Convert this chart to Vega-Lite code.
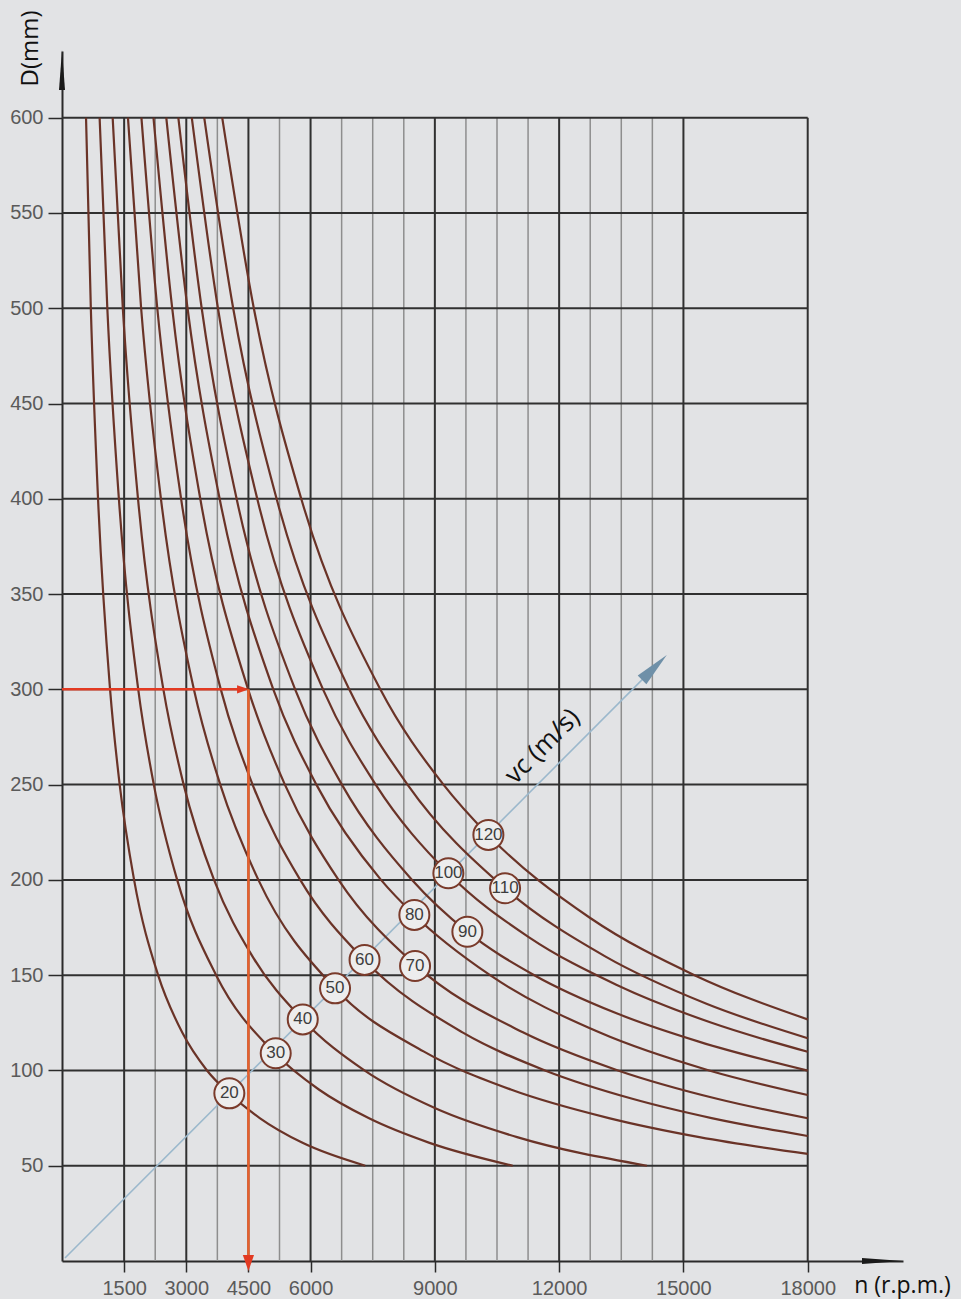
{
  "$schema": "https://vega.github.io/schema/vega-lite/v6.json",
  "width": 841,
  "height": 1210,
  "autosize": {"type": "none"},
  "padding": {"left": 62, "top": 51, "right": 58, "bottom": 38},
  "background": "#e2e3e5",
  "config": {"view": {"stroke": null}},
  "datasets": {
    "vminor": [
      {"n": 2250, "D": 0, "D2": 600}, {"n": 3750, "D": 0, "D2": 600}, {"n": 5250, "D": 0, "D2": 600},
      {"n": 6750, "D": 0, "D2": 600}, {"n": 7500, "D": 0, "D2": 600}, {"n": 8250, "D": 0, "D2": 600},
      {"n": 9750, "D": 0, "D2": 600}, {"n": 10500, "D": 0, "D2": 600}, {"n": 11250, "D": 0, "D2": 600},
      {"n": 12750, "D": 0, "D2": 600}, {"n": 13500, "D": 0, "D2": 600}, {"n": 14250, "D": 0, "D2": 600}
    ],
    "vmajor": [
      {"n": 1500, "D": 0, "D2": 600}, {"n": 3000, "D": 0, "D2": 600}, {"n": 4500, "D": 0, "D2": 600},
      {"n": 6000, "D": 0, "D2": 600}, {"n": 9000, "D": 0, "D2": 600}, {"n": 12000, "D": 0, "D2": 600},
      {"n": 15000, "D": 0, "D2": 600}, {"n": 18000, "D": 0, "D2": 600}
    ],
    "hgrid": [
      {"D": 50, "n": 0, "n2": 18000}, {"D": 100, "n": 0, "n2": 18000}, {"D": 150, "n": 0, "n2": 18000},
      {"D": 200, "n": 0, "n2": 18000}, {"D": 250, "n": 0, "n2": 18000}, {"D": 300, "n": 0, "n2": 18000},
      {"D": 350, "n": 0, "n2": 18000}, {"D": 400, "n": 0, "n2": 18000}, {"D": 450, "n": 0, "n2": 18000},
      {"D": 500, "n": 0, "n2": 18000}, {"D": 550, "n": 0, "n2": 18000}, {"D": 600, "n": 0, "n2": 18000}
    ],
    "blue": [{"n": 72, "D": 1.6}, {"n": 14300, "D": 311.5}],
    "bluehead": [{"n": 14300, "D": 311.5}],
    "curves": [
      {"vc": 20, "n": 580, "D": 600}, {"vc": 20, "n": 696, "D": 500}, {"vc": 20, "n": 870, "D": 400}, {"vc": 20, "n": 1160, "D": 300}, {"vc": 20, "n": 1392, "D": 250}, {"vc": 20, "n": 1740, "D": 200}, {"vc": 20, "n": 2320, "D": 150}, {"vc": 20, "n": 2900, "D": 120}, {"vc": 20, "n": 3500, "D": 100}, {"vc": 20, "n": 4034, "D": 88}, {"vc": 20, "n": 4773, "D": 75}, {"vc": 20, "n": 5806, "D": 62}, {"vc": 20, "n": 7320, "D": 50},
      {"vc": 30, "n": 908, "D": 600}, {"vc": 30, "n": 1094, "D": 500}, {"vc": 30, "n": 1373, "D": 400}, {"vc": 30, "n": 1840, "D": 300}, {"vc": 30, "n": 2216, "D": 250}, {"vc": 30, "n": 2780, "D": 200}, {"vc": 30, "n": 3720, "D": 150}, {"vc": 30, "n": 5138, "D": 109}, {"vc": 30, "n": 6200, "D": 90}, {"vc": 30, "n": 7400, "D": 75}, {"vc": 30, "n": 8871, "D": 62}, {"vc": 30, "n": 10880, "D": 50},
      {"vc": 40, "n": 1223, "D": 600}, {"vc": 40, "n": 1468, "D": 500}, {"vc": 40, "n": 1835, "D": 400}, {"vc": 40, "n": 2447, "D": 300}, {"vc": 40, "n": 2936, "D": 250}, {"vc": 40, "n": 3670, "D": 200}, {"vc": 40, "n": 4594, "D": 160}, {"vc": 40, "n": 5795, "D": 127}, {"vc": 40, "n": 7300, "D": 100}, {"vc": 40, "n": 9025, "D": 80}, {"vc": 40, "n": 10985, "D": 65}, {"vc": 40, "n": 14120, "D": 50},
      {"vc": 50, "n": 1592, "D": 600}, {"vc": 50, "n": 1910, "D": 500}, {"vc": 50, "n": 2388, "D": 400}, {"vc": 50, "n": 3183, "D": 300}, {"vc": 50, "n": 3820, "D": 250}, {"vc": 50, "n": 4740, "D": 200}, {"vc": 50, "n": 6594, "D": 143}, {"vc": 50, "n": 8727, "D": 110}, {"vc": 50, "n": 10833, "D": 90}, {"vc": 50, "n": 13200, "D": 75}, {"vc": 50, "n": 15385, "D": 65}, {"vc": 50, "n": 18000, "D": 56.2},
      {"vc": 60, "n": 1917, "D": 600}, {"vc": 60, "n": 2300, "D": 500}, {"vc": 60, "n": 2875, "D": 400}, {"vc": 60, "n": 3833, "D": 300}, {"vc": 60, "n": 4600, "D": 250}, {"vc": 60, "n": 5750, "D": 200}, {"vc": 60, "n": 7297, "D": 158}, {"vc": 60, "n": 9667, "D": 120}, {"vc": 60, "n": 11660, "D": 100}, {"vc": 60, "n": 13788, "D": 85}, {"vc": 60, "n": 15680, "D": 75}, {"vc": 60, "n": 18000, "D": 65.6},
      {"vc": 70, "n": 2208, "D": 600}, {"vc": 70, "n": 2660, "D": 500}, {"vc": 70, "n": 3338, "D": 400}, {"vc": 70, "n": 4493, "D": 300}, {"vc": 70, "n": 5380, "D": 250}, {"vc": 70, "n": 6675, "D": 200}, {"vc": 70, "n": 8548, "D": 155}, {"vc": 70, "n": 11125, "D": 120}, {"vc": 70, "n": 13420, "D": 100}, {"vc": 70, "n": 15835, "D": 85}, {"vc": 70, "n": 18000, "D": 74.9},
      {"vc": 80, "n": 2517, "D": 600}, {"vc": 80, "n": 3030, "D": 500}, {"vc": 80, "n": 3805, "D": 400}, {"vc": 80, "n": 5100, "D": 300}, {"vc": 80, "n": 6140, "D": 250}, {"vc": 80, "n": 7700, "D": 200}, {"vc": 80, "n": 8502, "D": 181.6}, {"vc": 80, "n": 10333, "D": 150}, {"vc": 80, "n": 12967, "D": 120}, {"vc": 80, "n": 15620, "D": 100}, {"vc": 80, "n": 18000, "D": 87.1},
      {"vc": 90, "n": 2808, "D": 600}, {"vc": 90, "n": 3372, "D": 500}, {"vc": 90, "n": 4215, "D": 400}, {"vc": 90, "n": 5627, "D": 300}, {"vc": 90, "n": 6756, "D": 250}, {"vc": 90, "n": 8450, "D": 200}, {"vc": 90, "n": 9780, "D": 172.8}, {"vc": 90, "n": 11400, "D": 150}, {"vc": 90, "n": 13385, "D": 130}, {"vc": 90, "n": 15391, "D": 115}, {"vc": 90, "n": 18000, "D": 99.9},
      {"vc": 100, "n": 3133, "D": 600}, {"vc": 100, "n": 3764, "D": 500}, {"vc": 100, "n": 4713, "D": 400}, {"vc": 100, "n": 6300, "D": 300}, {"vc": 100, "n": 7572, "D": 250}, {"vc": 100, "n": 9322, "D": 203.5}, {"vc": 100, "n": 11265, "D": 170}, {"vc": 100, "n": 13379, "D": 145}, {"vc": 100, "n": 15680, "D": 125}, {"vc": 100, "n": 18000, "D": 109.8},
      {"vc": 110, "n": 3433, "D": 600}, {"vc": 110, "n": 4132, "D": 500}, {"vc": 110, "n": 5180, "D": 400}, {"vc": 110, "n": 6933, "D": 300}, {"vc": 110, "n": 8340, "D": 250}, {"vc": 110, "n": 10690, "D": 195.6}, {"vc": 110, "n": 13100, "D": 160}, {"vc": 110, "n": 15556, "D": 135}, {"vc": 110, "n": 18000, "D": 116.9},
      {"vc": 120, "n": 3867, "D": 600}, {"vc": 120, "n": 4630, "D": 500}, {"vc": 120, "n": 5775, "D": 400}, {"vc": 120, "n": 7683, "D": 300}, {"vc": 120, "n": 9208, "D": 250}, {"vc": 120, "n": 10286, "D": 223.6}, {"vc": 120, "n": 12750, "D": 180}, {"vc": 120, "n": 15267, "D": 150}, {"vc": 120, "n": 18000, "D": 126.8}
    ],
    "redH": [{"n": 0, "D": 300}, {"n": 4380, "D": 300}],
    "redHhead": [{"n": 4370, "D": 300}],
    "redV": [{"n": 4500, "D": 300}, {"n": 4500, "D": 2}],
    "redVhead": [{"n": 4500, "D": -1.05}],
    "labels": [
      {"vc": "20", "n": 4039, "D": 88.0}, {"vc": "30", "n": 5159, "D": 109.0}, {"vc": "40", "n": 5811, "D": 126.8},
      {"vc": "50", "n": 6591, "D": 143.1}, {"vc": "60", "n": 7303, "D": 158.0}, {"vc": "70", "n": 8522, "D": 154.8},
      {"vc": "80", "n": 8505, "D": 181.6}, {"vc": "90", "n": 9785, "D": 172.8}, {"vc": "100", "n": 9326, "D": 203.5},
      {"vc": "110", "n": 10695, "D": 195.6}, {"vc": "120", "n": 10292, "D": 223.6}
    ],
    "vclabel": [{"n": 11600, "D": 270, "t": "vc (m/s)"}],
    "xarrow": [{"n": 19805, "D": 0}],
    "yarrow": [{"n": 0, "D": 625}]
  },
  "encoding": {
    "x": {
      "field": "n", "type": "quantitative",
      "scale": {"domain": [0, 20300], "nice": false, "zero": false},
      "axis": {
        "values": [1500, 3000, 4500, 6000, 9000, 12000, 15000, 18000],
        "format": "d", "grid": false,
        "title": "n (r.p.m.)", "titleFont": "Open Sans", "titleFontSize": 23, "titleFontWeight": "normal", "titleColor": "#111111",
        "titleX": 840, "titleY": 24, "titleAlign": "center", "titleBaseline": "middle",
        "domainColor": "#2a2a2a", "domainWidth": 2, "tickColor": "#2a2a2a", "tickWidth": 1.5, "tickSize": 11,
        "labelFont": "Liberation Sans", "labelFontSize": 20, "labelColor": "#5a5a5a",
        "labelPadding": 6, "labelFlush": false, "labelOverlap": false
      }
    },
    "y": {
      "field": "D", "type": "quantitative",
      "scale": {"domain": [0, 635], "nice": false, "zero": false},
      "axis": {
        "values": [50, 100, 150, 200, 250, 300, 350, 400, 450, 500, 550, 600],
        "format": "d", "grid": false,
        "title": "D(mm)", "titleFont": "Open Sans", "titleFontSize": 24, "titleFontWeight": "normal", "titleColor": "#111111",
        "titleAngle": 270, "titleX": -32, "titleY": -3, "titleAlign": "center", "titleBaseline": "middle",
        "domainColor": "#2a2a2a", "domainWidth": 2, "tickColor": "#2a2a2a", "tickWidth": 1.5, "tickSize": 14,
        "labelFont": "Liberation Sans", "labelFontSize": 20, "labelColor": "#5a5a5a",
        "labelPadding": 5, "labelFlush": false, "labelOverlap": false
      }
    }
  },
  "layer": [
    {"data": {"name": "vminor"}, "mark": {"type": "rule", "color": "#8e8e8e", "strokeWidth": 1.5}, "encoding": {"y2": {"field": "D2"}}},
    {"data": {"name": "hgrid"}, "mark": {"type": "rule", "color": "#303030", "strokeWidth": 2}, "encoding": {"x2": {"field": "n2"}}},
    {"data": {"name": "vmajor"}, "mark": {"type": "rule", "color": "#303030", "strokeWidth": 2}, "encoding": {"y2": {"field": "D2"}}},
    {"data": {"name": "blue"}, "mark": {"type": "line", "color": "#9bb8cc", "strokeWidth": 1.6}, "encoding": {}},
    {"data": {"name": "bluehead"}, "mark": {"type": "point", "shape": "M1,0 L-1,-0.35 L-1,0.35 Z", "size": 1225, "angle": -45, "filled": true, "color": "#6f90a8", "opacity": 1}, "encoding": {}},
    {"data": {"name": "curves"}, "mark": {"type": "line", "interpolate": "monotone", "color": "#6a3327", "strokeWidth": 2.2}, "encoding": {"detail": {"field": "vc", "type": "nominal"}}},
    {"data": {"name": "redH"}, "mark": {"type": "line", "color": "#e23a22", "strokeWidth": 2.5}, "encoding": {}},
    {"data": {"name": "redHhead"}, "mark": {"type": "point", "shape": "M-1,-0.7 L1,0 L-1,0.7 Z", "size": 144, "filled": true, "color": "#e23a22", "opacity": 1}, "encoding": {}},
    {"data": {"name": "redV"}, "mark": {"type": "line", "color": "#e8602c", "strokeWidth": 2.5}, "encoding": {}},
    {"data": {"name": "redVhead"}, "mark": {"type": "point", "shape": "M-0.7,-1 L0.7,-1 L0,1 Z", "size": 256, "filled": true, "color": "#e23a22", "opacity": 1}, "encoding": {}},
    {"data": {"name": "labels"}, "mark": {"type": "point", "shape": "circle", "size": 900, "filled": true, "fill": "#ededed", "stroke": "#7a3b2b", "strokeWidth": 2, "opacity": 1}, "encoding": {}},
    {"data": {"name": "labels"}, "mark": {"type": "text", "font": "Liberation Sans", "fontSize": 17, "color": "#3d3d3d", "align": "center", "baseline": "middle"}, "encoding": {"text": {"field": "vc", "type": "nominal"}}},
    {"data": {"name": "vclabel"}, "mark": {"type": "text", "font": "Open Sans", "fontSize": 26, "color": "#111111", "align": "center", "baseline": "middle", "angle": -45}, "encoding": {"text": {"field": "t", "type": "nominal"}}},
    {"data": {"name": "xarrow"}, "mark": {"type": "point", "shape": "M-1,-0.15 L1,0 L-1,0.15 Z", "size": 1681, "filled": true, "color": "#1a1a1a", "opacity": 1}, "encoding": {}},
    {"data": {"name": "yarrow"}, "mark": {"type": "point", "shape": "M-0.15,1 L0,-1 L0.15,1 Z", "size": 1600, "filled": true, "color": "#1a1a1a", "opacity": 1}, "encoding": {}}
  ]
}
